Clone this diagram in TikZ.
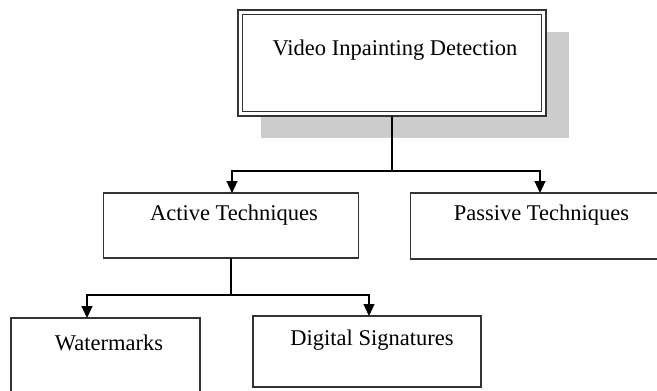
\documentclass[tikz,border=0pt]{standalone}
\usepackage{fontspec}
\setmainfont{Liberation Serif}
\usetikzlibrary{arrows.meta}
\begin{document}
\begin{tikzpicture}[x=1pt,y=-1pt,
  boxnode/.style={draw=black!80, line width=1.1pt, fill=white, inner sep=0pt, outer sep=0pt},
  label/.style={inner sep=0pt, anchor=base, font=\fontsize{22.5}{26}\selectfont},
  conn/.style={draw=black, line width=1.1pt},
  arr/.style={conn, -{Triangle[width=11pt,length=12pt]}}]
\useasboundingbox (0,0) rectangle (657,391);
\clip (0,0) rectangle (657,391);
% shadow
\fill[black!20] (261,32) rectangle (569,138);
% top box (double border)
\node[boxnode, minimum width=308pt, minimum height=106pt] (top) at (392,63) {};
\node[boxnode, minimum width=299pt, minimum height=97pt] (topin) at (392,63) {};
\node[label] (toptxt) at (395,55) {Video Inpainting Detection};
% second level
\node[boxnode, minimum width=255pt, minimum height=65pt] (active) at (231,225.5) {};
\node[label] (acttxt) at (234,220) {Active Techniques};
\node[boxnode, minimum width=259pt, minimum height=66pt] (passive) at (540,226) {};
\node[label] (pastxt) at (541.5,220) {Passive Techniques};
% third level
\node[boxnode, minimum width=189pt, minimum height=90pt] (wm) at (105.5,363) {};
\node[label] (wmtxt) at (109,350) {Watermarks};
\node[boxnode, minimum width=228pt, minimum height=71pt] (ds) at (367,351.5) {};
\node[label] (dstxt) at (372,345.5) {Digital Signatures};
% connectors
\coordinate (bus1) at (392,171);
\coordinate (b1l) at (232,171);
\coordinate (b1r) at (540,171);
\draw[conn] (top.south) -- (bus1);
\draw[arr] (bus1) -- (b1l) -- (b1l |- active.north);
\draw[arr] (bus1) -- (b1r) -- (b1r |- passive.north);
\coordinate (bus2) at (231,295);
\coordinate (b2l) at (87,295);
\coordinate (b2r) at (369,295);
\draw[conn] (active.south) -- (bus2);
\draw[arr] (bus2) -- (b2l) -- (b2l |- wm.north);
\draw[arr] (bus2) -- (b2r) -- (b2r |- ds.north);
\end{tikzpicture}
\end{document}
